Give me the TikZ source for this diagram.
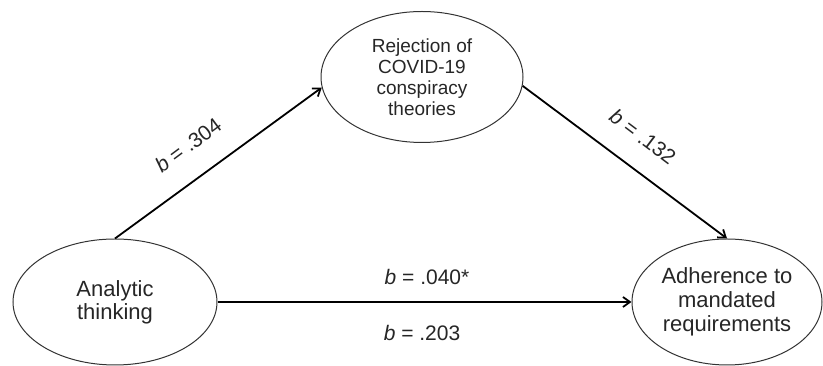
\documentclass[tikz,border=0pt]{standalone}
\usepackage{fontspec}
\setmainfont{Liberation Sans}
\usetikzlibrary{shapes.geometric,arrows.meta}

\begin{document}
\begin{tikzpicture}[x=1pt, y=1pt,
    bubble/.style={ellipse, draw=black!80, line width=1pt, inner sep=0pt},
    path/.style={-{Straight Barb[length=7pt,width=10pt]}, line width=1.8pt},
    coef/.style={font=\fontsize{21}{24}\selectfont, text=black!85}]
  \useasboundingbox (0, 0) rectangle (823, 366);
  \node[bubble, minimum width=204, minimum height=126] (ana) at (115, 64) {};
  \node[bubble, minimum width=202, minimum height=131] (rej) at (422, 289) {};
  \node[bubble, minimum width=190, minimum height=126] (adh) at (727, 64) {};
  \node[align=center, text=black!85, font=\fontsize{22}{23}\selectfont] (anatxt) at (ana) {Analytic\\thinking};
  \node[align=center, text=black!85, font=\fontsize{19}{21}\selectfont] (rejtxt) at (rej) {Rejection of\\COVID-19\\conspiracy\\theories};
  \node[align=center, text=black!85, font=\fontsize{22}{24}\selectfont] (adhtxt) at (adh) {Adherence to\\mandated\\requirements};
  \draw[path] (ana.north) -- (rej.186);
  \draw[path] (rej.355) -- (adh.north);
  \draw[path] (ana.east) -- (adh.west);
  \node[coef, rotate=36.6] (lab304) at (188, 221) {\textit{b} = .304};
  \node[coef, rotate=-37] (lab132) at (643, 229) {\textit{b} = .132};
  \node[coef] (lab040) at (427, 89) {\textit{b} = .040*};
  \node[coef] (lab203) at (422, 33) {\textit{b} = .203};
\end{tikzpicture}
\end{document}
